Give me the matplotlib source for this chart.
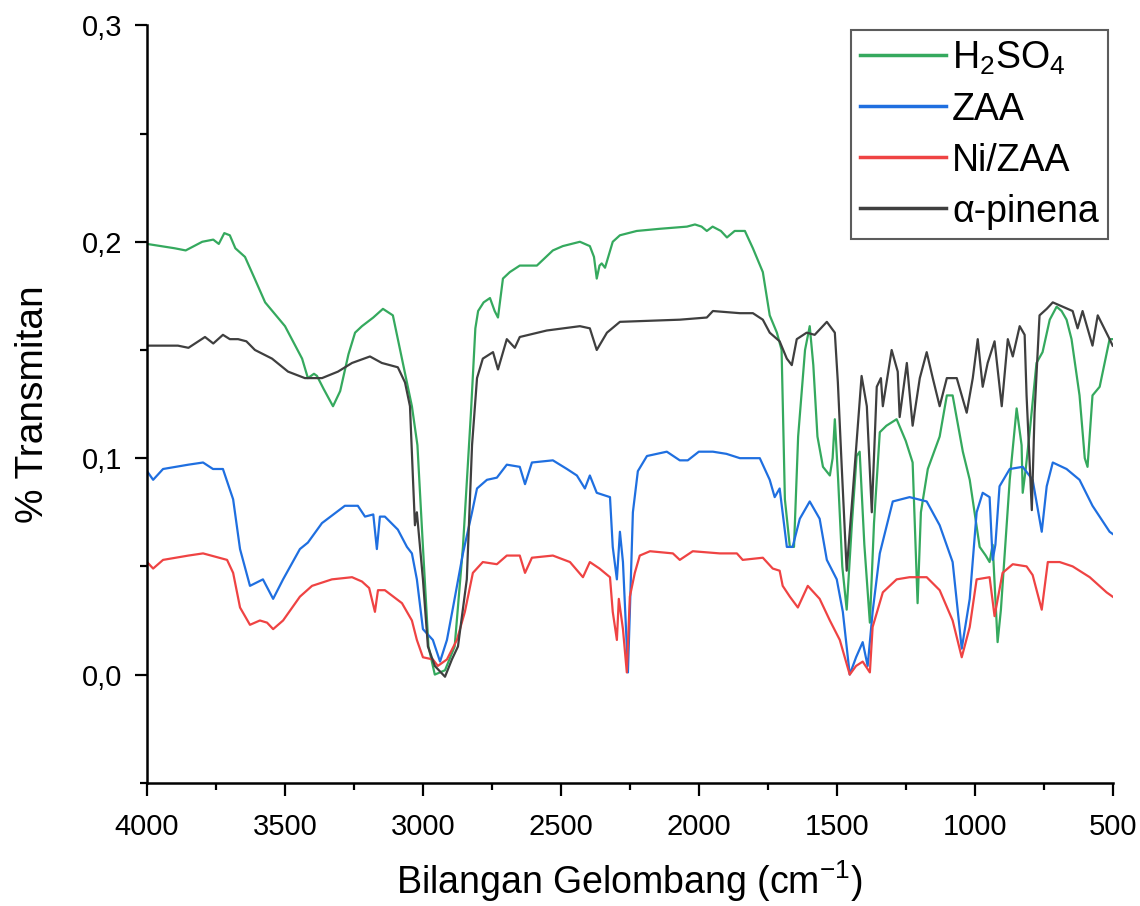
import matplotlib
matplotlib.use("Agg")
import matplotlib.pyplot as plt
from matplotlib.ticker import MultipleLocator

plt.rcParams['font.family'] = ['Liberation Sans', 'DejaVu Sans']
plt.rcParams['mathtext.default'] = 'regular'

# H2SO4 spectrum (wavenumber, transmitan)
h2so4_wn = [4000, 3950, 3900, 3860, 3800, 3760, 3740, 3720, 3700, 3680, 3645, 3610, 3572, 3500,
            3438, 3417, 3395, 3384, 3360, 3326, 3300, 3270, 3246, 3221, 3180, 3145, 3109, 3076,
            3040, 3020, 3000, 2980, 2957, 2920, 2885, 2855, 2826, 2810, 2800, 2780, 2757, 2740,
            2728, 2710, 2685, 2649, 2587, 2529, 2493, 2431, 2395, 2380, 2370, 2360, 2352, 2340,
            2312, 2286, 2225, 2141, 2043, 2014, 1990, 1971, 1950, 1920, 1898, 1870, 1833, 1804,
            1768, 1743, 1717, 1700, 1688, 1670, 1655, 1640, 1615, 1598, 1585, 1570, 1550, 1525,
            1515, 1507, 1495, 1480, 1464, 1445, 1428, 1417, 1400, 1380, 1365, 1344, 1320, 1283,
            1250, 1225, 1207, 1195, 1170, 1127, 1101, 1080, 1060, 1043, 1018, 982, 960, 946,
            935, 917, 905, 873, 848, 830, 826, 815, 800, 776, 754, 728, 703, 685, 667, 649,
            620, 601, 591, 573, 547, 511, 500]
h2so4_t = [0.199, 0.198, 0.197, 0.196, 0.200, 0.201, 0.199, 0.204, 0.203, 0.197, 0.193, 0.183,
           0.172, 0.161, 0.146, 0.137, 0.139, 0.138, 0.132, 0.124, 0.131, 0.148, 0.158, 0.161,
           0.165, 0.169, 0.166, 0.146, 0.124, 0.106, 0.059, 0.013, 0.000, 0.002, 0.013, 0.059,
           0.121, 0.160, 0.168, 0.172, 0.174, 0.168, 0.165, 0.183, 0.186, 0.189, 0.189, 0.196,
           0.198, 0.200, 0.198, 0.193, 0.183, 0.189, 0.190, 0.188, 0.200, 0.203, 0.205, 0.206,
           0.207, 0.208, 0.207, 0.205, 0.207, 0.205, 0.202, 0.205, 0.205, 0.197, 0.186, 0.166,
           0.158, 0.150, 0.081, 0.059, 0.059, 0.110, 0.150, 0.161, 0.143, 0.110, 0.096, 0.092,
           0.100, 0.118, 0.090, 0.050, 0.030, 0.070, 0.101, 0.103, 0.060, 0.024, 0.070, 0.112,
           0.115, 0.118, 0.108, 0.098, 0.033, 0.075, 0.095, 0.110, 0.129, 0.129, 0.115, 0.103,
           0.090, 0.059, 0.055, 0.052, 0.060, 0.015, 0.030, 0.090, 0.123, 0.106, 0.084, 0.095,
           0.113, 0.144, 0.149, 0.164, 0.170, 0.168, 0.164, 0.155, 0.129, 0.100, 0.096, 0.129,
           0.133, 0.155, 0.155]

# ZAA spectrum
zaa_wn = [4000, 3978, 3942, 3850, 3797, 3761, 3725, 3688, 3663, 3627, 3580, 3543, 3507, 3446,
          3417, 3366, 3283, 3236, 3210, 3180, 3167, 3156, 3138, 3091, 3058, 3040, 3022, 3000,
          2964, 2938, 2913, 2891, 2855, 2822, 2804, 2768, 2732, 2696, 2649, 2630, 2605, 2529,
          2478, 2442, 2413, 2395, 2370, 2322, 2312, 2297, 2286, 2275, 2261, 2257, 2250, 2239,
          2221, 2188, 2116, 2069, 2040, 2000, 1949, 1900, 1851, 1779, 1743, 1725, 1707, 1681,
          1660, 1634, 1598, 1562, 1536, 1500, 1478, 1453, 1430, 1406, 1388, 1370, 1344, 1297,
          1236, 1174, 1127, 1080, 1047, 1018, 993, 971, 946, 935, 925, 910, 873, 826, 790, 757,
          739, 717, 667, 620, 573, 511, 500]
zaa_t = [0.094, 0.090, 0.095, 0.097, 0.098, 0.095, 0.095, 0.081, 0.058, 0.041, 0.044, 0.035,
         0.044, 0.058, 0.061, 0.070, 0.078, 0.078, 0.073, 0.074, 0.058, 0.073, 0.073, 0.067,
         0.059, 0.056, 0.044, 0.021, 0.016, 0.006, 0.016, 0.031, 0.056, 0.075, 0.086, 0.090,
         0.091, 0.097, 0.096, 0.088, 0.098, 0.099, 0.095, 0.092, 0.086, 0.092, 0.084, 0.082,
         0.059, 0.044, 0.066, 0.052, 0.013, 0.001, 0.029, 0.075, 0.094, 0.101, 0.103, 0.099,
         0.099, 0.103, 0.103, 0.102, 0.100, 0.100, 0.090, 0.082, 0.086, 0.059, 0.059, 0.072,
         0.080, 0.072, 0.053, 0.044, 0.029, 0.000, 0.008, 0.015, 0.004, 0.029, 0.056, 0.080,
         0.082, 0.080, 0.069, 0.052, 0.012, 0.035, 0.075, 0.084, 0.082, 0.053, 0.060, 0.087,
         0.095, 0.096, 0.090, 0.066, 0.087, 0.098, 0.095, 0.090, 0.078, 0.066, 0.065]

# Ni/ZAA spectrum
nizaa_wn = [4000, 3978, 3942, 3850, 3797, 3710, 3688, 3663, 3627, 3591, 3565, 3543, 3507, 3446,
            3402, 3330, 3257, 3221, 3195, 3174, 3163, 3138, 3076, 3040, 3022, 3000, 2964, 2946,
            2913, 2877, 2848, 2819, 2783, 2732, 2696, 2649, 2630, 2605, 2529, 2467, 2420, 2395,
            2360, 2322, 2312, 2297, 2290, 2275, 2261, 2250, 2232, 2214, 2177, 2094, 2069, 2022,
            1924, 1862, 1841, 1768, 1732, 1707, 1696, 1670, 1641, 1605, 1562, 1525, 1489, 1453,
            1430, 1406, 1380, 1370, 1333, 1283, 1236, 1174, 1127, 1080, 1047, 1018, 993, 946,
            928, 899, 862, 812, 790, 757, 735, 692, 645, 583, 522, 500]
nizaa_t = [0.052, 0.049, 0.053, 0.055, 0.056, 0.053, 0.047, 0.031, 0.023, 0.025, 0.024, 0.021,
           0.025, 0.036, 0.041, 0.044, 0.045, 0.043, 0.040, 0.029, 0.039, 0.039, 0.033, 0.025,
           0.016, 0.008, 0.007, 0.004, 0.007, 0.016, 0.029, 0.047, 0.052, 0.051, 0.055, 0.055,
           0.047, 0.054, 0.055, 0.052, 0.045, 0.052, 0.049, 0.045, 0.029, 0.016, 0.035, 0.021,
           0.001, 0.036, 0.047, 0.055, 0.057, 0.056, 0.053, 0.057, 0.056, 0.056, 0.053, 0.054,
           0.049, 0.048, 0.041, 0.036, 0.031, 0.041, 0.035, 0.025, 0.016, 0.000, 0.004, 0.006,
           0.001, 0.022, 0.038, 0.044, 0.045, 0.045, 0.039, 0.025, 0.008, 0.022, 0.044, 0.045,
           0.027, 0.047, 0.051, 0.050, 0.046, 0.030, 0.052, 0.052, 0.050, 0.045, 0.038, 0.036]

# alpha-pinene spectrum
pinena_wn = [4000, 3888, 3850, 3790, 3760, 3725, 3700, 3670, 3640, 3609, 3547, 3489, 3428, 3366,
             3308, 3257, 3192, 3149, 3091, 3065, 3047, 3036, 3029, 3022, 3000, 2982, 2957, 2920,
             2895, 2873, 2841, 2822, 2804, 2783, 2746, 2728, 2696, 2667, 2649, 2551, 2431, 2395,
             2370, 2333, 2286, 2069, 1971, 1949, 1851, 1804, 1768, 1743, 1707, 1681, 1663, 1645,
             1609, 1580, 1536, 1507, 1496, 1482, 1464, 1442, 1410, 1391, 1373, 1355, 1340, 1333,
             1301, 1279, 1272, 1246, 1225, 1199, 1174, 1152, 1127, 1101, 1065, 1029, 1007, 989,
             971, 953, 928, 902, 880, 862, 837, 819, 812, 793, 783, 765, 739, 717, 681, 645, 627,
             609, 573, 554, 511, 500]
pinena_t = [0.152, 0.152, 0.151, 0.156, 0.153, 0.157, 0.155, 0.155, 0.154, 0.150, 0.146, 0.140,
            0.137, 0.137, 0.140, 0.144, 0.147, 0.144, 0.142, 0.135, 0.124, 0.090, 0.069, 0.075,
            0.044, 0.013, 0.004, -0.001, 0.007, 0.013, 0.044, 0.106, 0.137, 0.146, 0.149, 0.141,
            0.155, 0.151, 0.156, 0.159, 0.161, 0.160, 0.150, 0.158, 0.163, 0.164, 0.165, 0.168,
            0.167, 0.167, 0.164, 0.158, 0.154, 0.146, 0.143, 0.155, 0.158, 0.157, 0.163, 0.158,
            0.135, 0.096, 0.048, 0.084, 0.138, 0.124, 0.075, 0.133, 0.137, 0.124, 0.150, 0.140,
            0.119, 0.144, 0.115, 0.137, 0.149, 0.137, 0.124, 0.137, 0.137, 0.121, 0.137, 0.155,
            0.133, 0.144, 0.154, 0.124, 0.155, 0.147, 0.161, 0.157, 0.129, 0.076, 0.121, 0.166,
            0.169, 0.172, 0.170, 0.168, 0.160, 0.168, 0.152, 0.166, 0.155, 0.152]

labels = [r'H$_2$SO$_4$', 'ZAA', 'Ni/ZAA', 'α-pinena']
colors = ['#35a95e', '#1f6fe0', '#ef4343', '#3f3f3f']

yticks = [0.0, 0.1, 0.2, 0.3]
yticklabels = ['0,0', '0,1', '0,2', '0,3']
xticks = [4000, 3500, 3000, 2500, 2000, 1500, 1000, 500]

fig = plt.figure(figsize=(11.4, 9.06), dpi=100)
ax = fig.add_axes([0.129, 0.136, 0.847, 0.836])

series = [(h2so4_wn, h2so4_t), (zaa_wn, zaa_t), (nizaa_wn, nizaa_t), (pinena_wn, pinena_t)]
for (wn, t), lab, col in zip(series, labels, colors):
    ax.plot(wn, t, color=col, lw=1.6, label=lab)

ax.set_xlim(4000, 500)
ax.set_ylim(-0.05, 0.3)
ax.set_xticks(xticks)
ax.set_xticklabels([str(v) for v in xticks])
ax.set_yticks(yticks)
ax.set_yticklabels(yticklabels)
ax.xaxis.set_minor_locator(MultipleLocator(250))
ax.yaxis.set_minor_locator(MultipleLocator(0.05))

for side in ['top', 'right']:
    ax.spines[side].set_visible(False)
for side in ['left', 'bottom']:
    ax.spines[side].set_linewidth(1.8)

ax.tick_params(which='major', direction='out', length=9, width=1.6, labelsize=21)
ax.tick_params(which='minor', direction='out', length=5, width=1.6)
ax.tick_params(axis='x', which='major', pad=13)
ax.tick_params(axis='y', which='major', pad=9)

ax.set_xlabel('Bilangan Gelombang (cm$^{-1}$)', fontsize=27, labelpad=12)
ax.set_ylabel('% Transmitan', fontsize=28, labelpad=22)

leg = ax.legend(loc='upper right', fontsize=27, frameon=True, fancybox=False,
                edgecolor='#333333', handlelength=2.3, handletextpad=0.15,
                labelspacing=0.4, borderpad=0.25, borderaxespad=0.12)
leg.get_frame().set_linewidth(1.5)
for line in leg.get_lines():
    line.set_linewidth(2.5)

fig.savefig('out.png', dpi=100, facecolor='white')
